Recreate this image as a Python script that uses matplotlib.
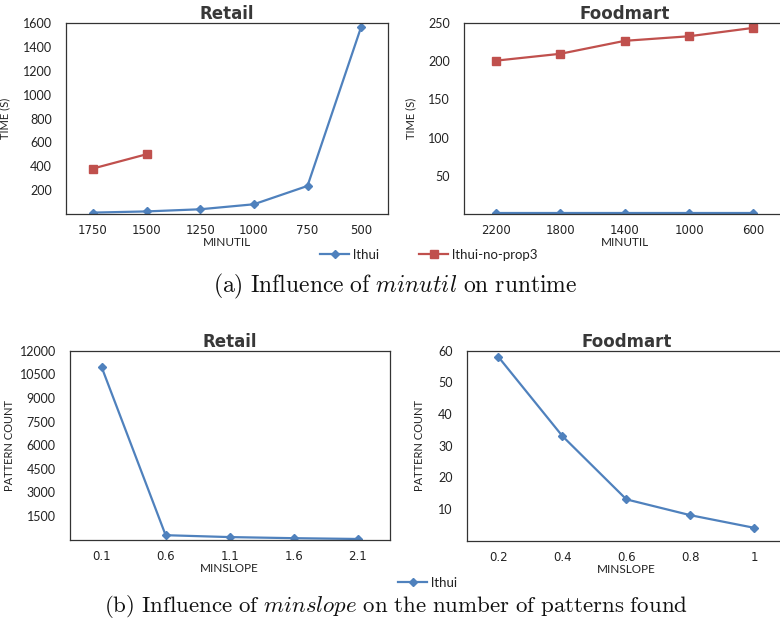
import matplotlib
matplotlib.use("Agg")
import matplotlib.pyplot as plt
import numpy as np

# ---- data ----
minutil_retail = ["1750", "1500", "1250", "1000", "750", "500"]
retail_lthui = [10, 20, 38, 80, 234, 1570]
retail_noprop3 = [380, 500, np.nan, np.nan, np.nan, np.nan]

minutil_food = ["2200", "1800", "1400", "1000", "600"]
food_lthui = [1.5, 1.5, 1.5, 1.5, 1.5]
food_noprop3 = [201, 210, 227, 233, 244]

minslope_retail = ["0.1", "0.6", "1.1", "1.6", "2.1"]
retail_patterns = [10950, 280, 160, 90, 40]

minslope_food = ["0.2", "0.4", "0.6", "0.8", "1"]
food_patterns = [58, 33, 13, 8, 4]

BLUE = "#4F81BD"
RED = "#C0504D"
TXT = "#222222"

plt.rcParams["mathtext.fontset"] = "cm"

W, H = 780, 629
fig = plt.figure(figsize=(W / 100, H / 100), dpi=100)


def px_axes(left, right, top, bottom):
    return fig.add_axes([left / W, 1 - bottom / H, (right - left) / W, (bottom - top) / H])


def style(ax, cats, yticks, ymax, title, xlabel, ylabel, ylab_x):
    n = len(cats)
    ax.set_xlim(-0.5, n - 0.5)
    ax.set_ylim(0, ymax)
    ax.set_xticks(range(n))
    ax.set_xticklabels(cats, family="DejaVu Sans", fontsize=8.5, color=TXT)
    ax.set_yticks(yticks)
    ax.set_yticklabels([str(v) for v in yticks], family="Lato", fontsize=9, color=TXT)
    ax.tick_params(axis="both", length=0)
    ax.tick_params(axis="y", pad=10)
    ax.tick_params(axis="x", pad=7.5)
    for s in ax.spines.values():
        s.set_color("#333333")
        s.set_linewidth(0.9)
    ax.set_title(title, family="DejaVu Sans", fontweight="bold", fontsize=12,
                 color="#383838", pad=2)
    ax.set_xlabel(xlabel, family="Lato", fontsize=8.5, color=TXT, labelpad=0)
    ax.set_ylabel(ylabel, family="Lato", fontsize=8, color=TXT)
    ax.yaxis.set_label_coords(ylab_x, 0.5)


LW = 1.6
# top-left: Retail runtime
ax1 = px_axes(66, 388, 23.3, 213.8)
x = np.arange(len(minutil_retail))
l1, = ax1.plot(x, retail_lthui, color=BLUE, marker="D", markersize=4.5, lw=LW)
l2, = ax1.plot(x, retail_noprop3, color=RED, marker="s", markersize=6, lw=LW)
style(ax1, minutil_retail, [200, 400, 600, 800, 1000, 1200, 1400, 1600], 1600,
      "Retail", "MINUTIL", "TIME (S)", -0.174)

# top-right: Foodmart runtime
ax2 = px_axes(464, 785.5, 23.3, 213.8)
x = np.arange(len(minutil_food))
ax2.plot(x, food_lthui, color=BLUE, marker="D", markersize=4.5, lw=LW)
ax2.plot(x, food_noprop3, color=RED, marker="s", markersize=6, lw=LW)
style(ax2, minutil_food, [50, 100, 150, 200, 250], 250,
      "Foodmart", "MINUTIL", "TIME (S)", -0.149)

# bottom-left: Retail patterns
ax3 = px_axes(69.7, 389.5, 350.7, 539.6)
x = np.arange(len(minslope_retail))
l3, = ax3.plot(x, retail_patterns, color=BLUE, marker="D", markersize=4.5, lw=LW)
style(ax3, minslope_retail, [1500, 3000, 4500, 6000, 7500, 9000, 10500, 12000], 12000,
      "Retail", "MINSLOPE", "PATTERN COUNT", -0.171)

# bottom-right: Foodmart patterns
ax4 = px_axes(466.5, 786.3, 350.7, 540.5)
x = np.arange(len(minslope_food))
ax4.plot(x, food_patterns, color=BLUE, marker="D", markersize=4.5, lw=LW)
style(ax4, minslope_food, [10, 20, 30, 40, 50, 60], 60,
      "Foodmart", "MINSLOPE", "PATTERN COUNT", -0.13)

# legends
fig.legend([l1, l2], ["lthui", "lthui-no-prop3"], loc="center",
           bbox_to_anchor=(429 / W, 1 - 255 / H), ncol=2, frameon=False,
           prop={"family": "Lato", "size": 9.5}, handlelength=2.2, columnspacing=3,
           handletextpad=0.3, labelcolor=TXT)
fig.legend([l3], ["lthui"], loc="center",
           bbox_to_anchor=(428 / W, 1 - 583 / H), ncol=1, frameon=False,
           prop={"family": "Lato", "size": 9.5}, handlelength=2.2,
           handletextpad=0.3, labelcolor=TXT)

# captions
fig.text(395 / W, 1 - 286 / H,
         r"$\mathrm{(a)\ Influence\ of\ }\mathit{minutil}\mathrm{\ on\ runtime}$",
         ha="center", va="center", fontsize=17, color="#111111")
fig.text(396 / W, 1 - 606 / H,
         r"$\mathrm{(b)\ Influence\ of\ }\mathit{minslope}\mathrm{\ on\ the\ number\ of\ patterns\ found}$",
         ha="center", va="center", fontsize=16.5, color="#111111")

fig.savefig("out.png", dpi=100)
